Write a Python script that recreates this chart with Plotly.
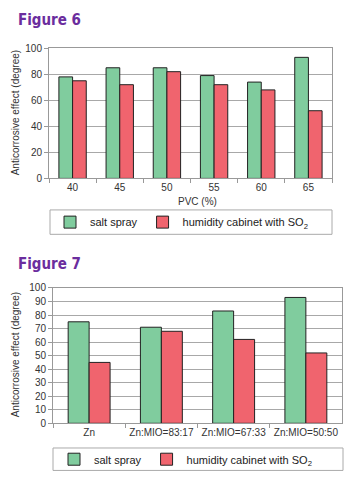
import plotly.graph_objects as go

W, H = 361, 494

# Figure 6 data
pvc = ["40", "45", "50", "55", "60", "65"]
f6_salt = [78, 85, 85, 79, 74, 93]
f6_humid = [75, 72, 82, 72, 68, 52]

# Figure 7 data
mix = ["Zn", "Zn:MIO=83:17", "Zn:MIO=67:33", "Zn:MIO=50:50"]
f7_salt = [75, 71, 83, 93]
f7_humid = [45, 68, 62, 52]

GREEN = "#80cc9e"
RED = "#f0646e"
OUT = "#222222"
GRID = "#a8a8a8"
FONT = "Liberation Sans"
TXT = "#333333"
PURPLE = "#6b2d9e"
TITLE_FONT = "DejaVu Sans Condensed"

def px_x(x):
    return x / W

def px_y(y):
    return 1 - y / H

fig = go.Figure()

fig.add_trace(go.Bar(x=pvc, y=f6_salt, name="salt spray", marker=dict(color=GREEN, line=dict(color=OUT, width=1)),
                     xaxis="x", yaxis="y", legend="legend"))
fig.add_trace(go.Bar(x=pvc, y=f6_humid, name="humidity cabinet with SO<sub>2</sub>", marker=dict(color=RED, line=dict(color=OUT, width=1)),
                     xaxis="x", yaxis="y", legend="legend"))
fig.add_trace(go.Bar(x=mix, y=f7_salt, name="salt spray", marker=dict(color=GREEN, line=dict(color=OUT, width=1)),
                     xaxis="x2", yaxis="y2", legend="legend2"))
fig.add_trace(go.Bar(x=mix, y=f7_humid, name="humidity cabinet with SO<sub>2</sub>", marker=dict(color=RED, line=dict(color=OUT, width=1)),
                     xaxis="x2", yaxis="y2", legend="legend2"))

axis_common = dict(showline=True, linecolor="#999999", linewidth=1, mirror=True,
                   tickfont=dict(family=FONT, size=10, color=TXT), ticks="outside",
                   tickcolor="#999999", ticklen=4, fixedrange=True)

fig.update_layout(
    width=W, height=H,
    margin=dict(l=0, r=0, t=0, b=0),
    paper_bgcolor="white", plot_bgcolor="white",
    barmode="group", bargap=0.42, bargroupgap=0,
    font=dict(family=FONT, size=10, color=TXT),
    xaxis=dict(domain=[px_x(49), px_x(332)], anchor="y", type="category", tickson="boundaries",
               tickangle=0, **axis_common),
    yaxis=dict(domain=[px_y(176.7), px_y(43.3)], anchor="x", range=[0, 100], dtick=20,
               showgrid=True, gridcolor=GRID, gridwidth=1, **axis_common),
    xaxis2=dict(domain=[px_x(53), px_x(342)], anchor="y2", type="category", tickson="boundaries",
                tickangle=0, **axis_common),
    yaxis2=dict(domain=[px_y(427.7), px_y(289)], anchor="x2", range=[0, 100], dtick=10,
                showgrid=True, gridcolor=GRID, gridwidth=1, **axis_common),
    legend=dict(orientation="h", x=px_x(50), y=px_y(221.5), xanchor="left", yanchor="middle",
                bgcolor="rgba(0,0,0,0)", borderwidth=0,
                font=dict(family=FONT, size=11, color="#222222")),
    legend2=dict(orientation="h", x=px_x(54), y=px_y(464.5), xanchor="left", yanchor="middle",
                 bgcolor="rgba(0,0,0,0)", borderwidth=0,
                 font=dict(family=FONT, size=11, color="#222222")),
    shapes=[
        dict(type="rect", xref="paper", yref="paper", x0=px_x(50), x1=px_x(332), y0=px_y(234), y1=px_y(209),
             line=dict(color="#aaaaaa", width=1), fillcolor="rgba(0,0,0,0)", layer="below"),
        dict(type="rect", xref="paper", yref="paper", x0=px_x(53), x1=px_x(343), y0=px_y(476), y1=px_y(453),
             line=dict(color="#aaaaaa", width=1), fillcolor="rgba(0,0,0,0)", layer="below"),
    ],
    annotations=[
        dict(text="<b>Figure 6</b>", xref="paper", yref="paper", x=px_x(16), y=px_y(14), xanchor="left",
             yanchor="middle", showarrow=False,
             font=dict(family=TITLE_FONT, size=15, color=PURPLE)),
        dict(text="<b>Figure 7</b>", xref="paper", yref="paper", x=px_x(16), y=px_y(264), xanchor="left",
             yanchor="middle", showarrow=False,
             font=dict(family=TITLE_FONT, size=15, color=PURPLE)),
        dict(text="Anticorrosive effect (degree)", xref="paper", yref="paper", x=px_x(15), y=px_y(110),
             xanchor="center", yanchor="middle", textangle=-90, showarrow=False,
             font=dict(family=FONT, size=10, color=TXT)),
        dict(text="Anticorrosive effect (degree)", xref="paper", yref="paper", x=px_x(15), y=px_y(358),
             xanchor="center", yanchor="middle", textangle=-90, showarrow=False,
             font=dict(family=FONT, size=10, color=TXT)),
        dict(text="PVC (%)", xref="paper", yref="paper", x=px_x(197), y=px_y(200),
             xanchor="center", yanchor="middle", showarrow=False,
             font=dict(family=FONT, size=10, color=TXT)),
    ],
)

fig.write_html("out.html", config={"displayModeBar": False},
               post_script="document.body.style.margin='0';")
